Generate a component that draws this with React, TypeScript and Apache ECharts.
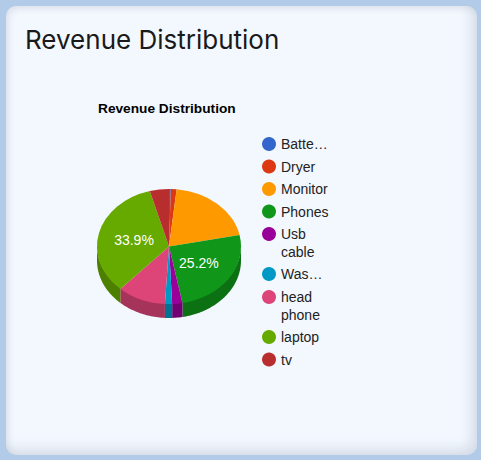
import React, { useEffect, useRef } from "react";
import * as echarts from "echarts";

const categories = ["Batte…", "Dryer", "Monitor", "Phones", "Usb\ncable", "Was…", "head\nphone", "laptop", "tv"];
const values = [0.4, 1.3, 20.1, 25.2, 2.3, 1.6, 10.9, 33.9, 4.3];
const topColors = ["#3366cc", "#dc3912", "#ff9900", "#109618", "#990099", "#0099c6", "#dd4477", "#66aa00", "#b82e2e"];
const sideColors = ["#264d99", "#a52b0e", "#bf7300", "#0c7112", "#730073", "#007395", "#a63359", "#4d8000", "#8a2222"];
const labelledCategories = ["Phones", "laptop"];
const legendBlocks = [
  { names: ["Batte…", "Dryer", "Monitor", "Phones"], top: 135 },
  { names: ["Usb\ncable"], top: 207 },
  { names: ["Was…"], top: 265 },
  { names: ["head\nphone"], top: 270 },
  { names: ["laptop", "tv"], top: 328 },
];

const CX = 169;
const CY = 246.5;
const RX = 72;
const RY = 57.5;
const DEPTH = 14;
const TOTAL = values.reduce((a, b) => a + b, 0);

function makeRender(index: number) {
  return () => {
    const before = values.slice(0, index).reduce((a, b) => a + b, 0);
    const s = (before / TOTAL) * Math.PI * 2;
    const e = ((before + values[index]) / TOTAL) * Math.PI * 2;
    const children: any[] = [];
    const from = Math.max(s, Math.PI / 2);
    const to = Math.min(e, (Math.PI * 3) / 2);
    if (to > from) {
      const upper: number[][] = [];
      const lower: number[][] = [];
      const steps = Math.max(2, Math.ceil((to - from) * 40));
      for (let i = 0; i <= steps; i++) {
        const t = from + ((to - from) * i) / steps;
        const x = CX + RX * Math.sin(t);
        const y = CY - RY * Math.cos(t);
        upper.push([x, y - 1]);
        lower.unshift([x, y + DEPTH]);
      }
      children.push({
        type: "polygon",
        z2: 1,
        shape: { points: upper.concat(lower) },
        style: { fill: sideColors[index] },
      });
    }
    children.push({
      type: "group",
      x: CX,
      y: CY,
      scaleY: RY / RX,
      children: [
        {
          type: "sector",
          z2: 5,
          shape: { cx: 0, cy: 0, r0: 0, r: RX, startAngle: s - Math.PI / 2, endAngle: e - Math.PI / 2, clockwise: true },
          style: { fill: topColors[index] },
        },
      ],
    });
    if (labelledCategories.includes(categories[index])) {
      const m = (s + e) / 2;
      children.push({
        type: "text",
        z2: 10,
        x: CX + RX * 0.5 * Math.sin(m),
        y: CY - RY * 0.5 * Math.cos(m),
        style: {
          text: ((values[index] / TOTAL) * 100).toFixed(1) + "%",
          fill: "#ffffff",
          fontFamily: "Liberation Sans",
          fontSize: 14,
          align: "center",
          verticalAlign: "middle",
        },
      });
    }
    return { type: "group", children };
  };
}

export default function App() {
  const ref = useRef<HTMLDivElement>(null);
  useEffect(() => {
    const chart = echarts.init(ref.current!, undefined, { renderer: "svg" });
    chart.setOption({
      animation: false,
      backgroundColor: "transparent",
      title: [
        {
          text: "Revenue Distribution",
          left: 25,
          top: 26,
          padding: 0,
          textStyle: { fontFamily: "Inter", fontSize: 26, fontWeight: 400, color: "#1a1a1a" },
        },
        {
          text: "Revenue Distribution",
          left: 98,
          top: 101,
          padding: 0,
          textStyle: { fontFamily: "Liberation Sans", fontSize: 13.7, fontWeight: "bold", color: "#000000" },
        },
      ],
      legend: legendBlocks.map((b) => ({
        orient: "vertical",
        left: 262,
        top: b.top,
        padding: 0,
        itemGap: 4.5,
        itemWidth: 14,
        itemHeight: 14,
        icon: "circle",
        selectedMode: false,
        data: b.names,
        // A leading empty line keeps the first line of a wrapped name level with its marker.
        formatter: (name: string) => (name.includes("\n") ? "\n" + name : name),
        textStyle: { fontFamily: "Liberation Sans", fontSize: 14, color: "#222222", lineHeight: 18 },
      })),
      series: categories.map((name, i) => ({
        type: "custom",
        name,
        coordinateSystem: "none",
        silent: true,
        itemStyle: { color: topColors[i] },
        data: [values[i]],
        renderItem: makeRender(i),
      })),
    });
    return () => chart.dispose();
  }, []);
  return (
    <div style={{ position: "fixed", left: 0, top: 0, width: 481, height: 460, background: "#b2cbe8", overflow: "hidden" }}>
      <div
        style={{
          position: "absolute",
          left: 6,
          top: 6,
          width: 471,
          height: 449,
          borderRadius: 10,
          background: "#f3f8ff",
          boxShadow: "inset -6px -6px 12px rgba(120,130,150,0.22), inset 3px 3px 6px rgba(120,130,150,0.15)",
        }}
      />
      <div ref={ref} style={{ position: "absolute", left: 0, top: 0, width: 481, height: 460 }} />
    </div>
  );
}
